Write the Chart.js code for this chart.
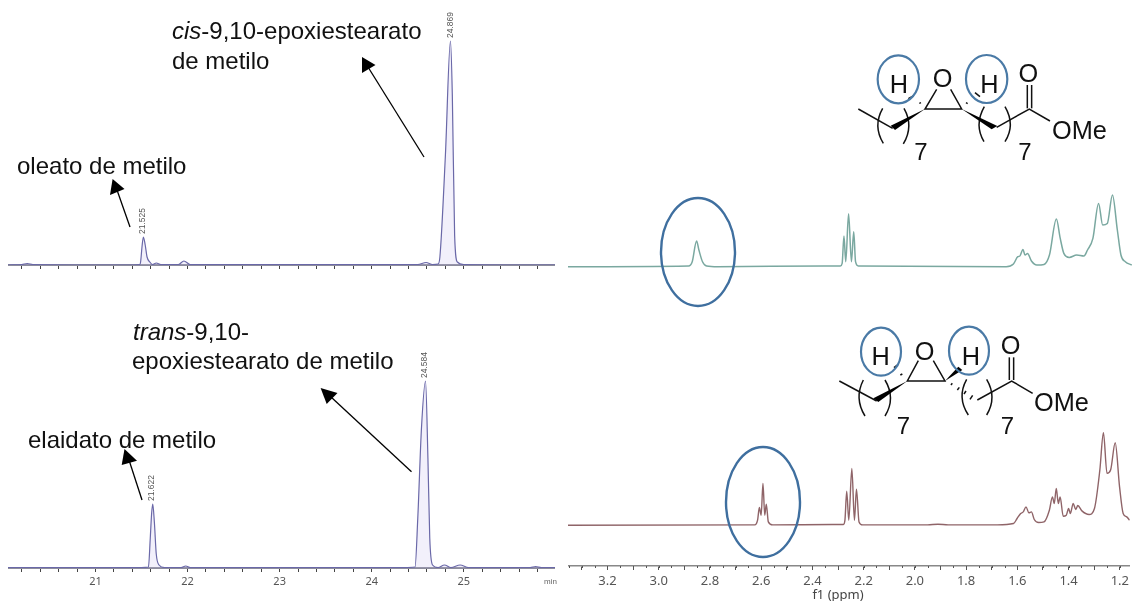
<!DOCTYPE html>
<html>
<head>
<meta charset="utf-8">
<script src="https://cdn.jsdelivr.net/npm/chart.js@4"></script>
<style>
  html, body { margin: 0; padding: 0; background: #fff; }
  body { position: relative; width: 1132px; height: 601px; overflow: hidden; }
  .panel { position: absolute; filter: blur(0.35px); }
  svg { position: absolute; left: 0; top: 0; }
  svg text { font-family: "Liberation Sans", Arial, sans-serif; fill: #111; }
</style>
</head>
<body>
<div class="panel" style="left:8px;top:0;width:547px;height:275px"><canvas id="gc_cis"></canvas></div>
<div class="panel" style="left:8px;top:340px;width:547px;height:261px"><canvas id="gc_trans"></canvas></div>
<div class="panel" style="left:568px;top:180px;width:564px;height:90px"><canvas id="nmr_cis"></canvas></div>
<div class="panel" style="left:568px;top:420px;width:564px;height:181px"><canvas id="nmr_trans"></canvas></div>

<svg width="1132" height="601" xmlns="http://www.w3.org/2000/svg">
  <g font-size="24">
    <text x="172" y="39"><tspan font-style="italic">cis</tspan>-9,10-epoxiestearato</text>
    <text x="172" y="69">de metilo</text>
    <text x="17" y="174">oleato de metilo</text>
    <text x="133" y="340"><tspan font-style="italic">trans</tspan>-9,10-</text>
    <text x="132" y="369">epoxiestearato de metilo</text>
    <text x="28" y="448">elaidato de metilo</text>
  </g>
  <text x="544" y="584" font-size="8" style="fill:#666">min</text>
  <text x="838" y="599" text-anchor="middle" font-size="13" style="fill:#444;font-family:'Noto Sans'">f1 (ppm)</text>
  <g stroke="#000" stroke-width="1.3">
    <line x1="130" y1="227" x2="117" y2="190"/>
    <line x1="424" y1="157" x2="368" y2="67"/>
    <line x1="142" y1="500" x2="129" y2="460"/>
    <line x1="411.5" y1="471.7" x2="331" y2="397"/>
  </g>
  <polygon points="112.6,179 110,195 124.5,189"/>
  <polygon points="362,57 362,73 375.5,65"/>
  <polygon points="124.5,449 121.7,465 137,460.7"/>
  <polygon points="320.6,388 326.7,404 337.5,393"/>

  <g fill="none" stroke="#3f6f9f" stroke-width="2.4">
    <ellipse cx="698" cy="252" rx="37" ry="54"/>
    <ellipse cx="763" cy="502" rx="37" ry="55"/>
  </g>

  <!-- cis structure, drawn in zoom units -->
  <g transform="translate(840,40) scale(0.3333)">
    <g fill="none" stroke="#111" stroke-width="4.5">
      <polyline points="55,207 158,265"/>
      <polyline points="290,148 255,207 365,207 332,148"/>
      <polyline points="470,262 568,207 630,243"/>
      <line x1="562" y1="205" x2="562" y2="135"/>
      <line x1="575" y1="205" x2="575" y2="135"/>
      <path d="M128,205 Q98,258 130,310"/>
      <path d="M192,205 Q222,258 190,312"/>
      <path d="M433,200 Q402,255 432,305"/>
      <path d="M495,200 Q527,255 495,305"/>
      <line x1="205" y1="176" x2="220" y2="168"/>
      <line x1="405" y1="158" x2="420" y2="170"/>
      <line x1="238" y1="190" x2="243" y2="188"/>
      <line x1="378" y1="188" x2="383" y2="191"/>
    </g>
    <polygon points="255,207 152,257 165,270" fill="#000"/>
    <polygon points="365,207 455,268 472,258" fill="#000"/>
    <g font-size="76">
      <text x="308" y="141" text-anchor="middle">O</text>
      <text x="177" y="159" text-anchor="middle">H</text>
      <text x="448" y="159" text-anchor="middle">H</text>
      <text x="565" y="126" text-anchor="middle">O</text>
      <text x="636" y="298">OMe</text>
      <text x="243" y="361" text-anchor="middle" font-size="72">7</text>
      <text x="555" y="361" text-anchor="middle" font-size="72">7</text>
    </g>
    <g fill="none" stroke="#4a7aa6" stroke-width="6.5">
      <ellipse cx="175" cy="118" rx="62" ry="72"/>
      <ellipse cx="440" cy="117" rx="62" ry="72"/>
    </g>
  </g>

  <!-- trans structure, drawn in zoom units -->
  <g transform="translate(820,320) scale(0.3333)">
    <g fill="none" stroke="#111" stroke-width="4.5">
      <polyline points="58,183 170,243"/>
      <polyline points="295,122 262,183 375,183 340,122"/>
      <polyline points="472,240 575,183 638,220"/>
      <line x1="568" y1="180" x2="568" y2="112"/>
      <line x1="581" y1="180" x2="581" y2="112"/>
      <path d="M130,180 Q102,235 135,288"/>
      <path d="M195,180 Q228,235 195,288"/>
      <path d="M440,178 Q410,232 445,285"/>
      <path d="M500,178 Q532,232 500,285"/>
      <line x1="222" y1="143" x2="232" y2="135"/>
      <line x1="241" y1="165" x2="247" y2="162"/>
      <line x1="393" y1="195" x2="397" y2="190"/>
      <line x1="412" y1="210" x2="418" y2="202"/>
      <line x1="432" y1="222" x2="438" y2="213"/>
      <line x1="450" y1="238" x2="458" y2="226"/>
    </g>
    <polygon points="262,183 160,235 175,246" fill="#000"/>
    <polygon points="375,183 415,140 427,150" fill="#000"/>
    <g font-size="76">
      <text x="314" y="119" text-anchor="middle">O</text>
      <text x="182" y="136" text-anchor="middle">H</text>
      <text x="453" y="136" text-anchor="middle">H</text>
      <text x="572" y="101" text-anchor="middle">O</text>
      <text x="642" y="273">OMe</text>
      <text x="250" y="341" text-anchor="middle" font-size="72">7</text>
      <text x="562" y="341" text-anchor="middle" font-size="72">7</text>
    </g>
    <g fill="none" stroke="#4a7aa6" stroke-width="6.5">
      <ellipse cx="183" cy="95" rx="60" ry="72"/>
      <ellipse cx="447" cy="92" rx="60" ry="72"/>
    </g>
  </g>
</svg>

<script>
// retention times (min) and detector signal
const cisTimes = [20.05, 20.2, 20.26, 20.32, 21.4, 21.48, 21.49, 21.505, 21.52, 21.54, 21.56, 21.59, 21.62, 21.66, 21.71, 21.9, 21.96, 22.03, 24.5, 24.59, 24.66, 24.72, 24.74, 24.8, 24.855, 24.875, 24.9, 24.93, 25.0, 25.99];
const cisSignal = [0, 0.5, 1.5, 0.5, 0, 0.5, 3, 18, 28, 20, 8, 3, 0.5, 2, 0.5, 0.5, 4, 0.5, 0.5, 2.5, 0.5, 1, 8, 110, 224, 170, 30, 3, 0.5, 0];
const cisPeaks = [21.525, 24.869];

const transTimes = [20.05, 21.5, 21.575, 21.595, 21.61, 21.622, 21.64, 21.66, 21.69, 21.75, 21.93, 21.98, 22.03, 24.35, 24.47, 24.5, 24.54, 24.584, 24.61, 24.63, 24.66, 24.72, 24.79, 24.86, 24.96, 25.05, 25.72, 25.78, 25.84, 25.99];
const transSignal = [0.5, 0.5, 1, 30, 55, 64, 45, 14, 3, 0.5, 0.5, 2, 0.5, 0.5, 1, 50, 140, 187, 110, 30, 3, 0.5, 3, 0.5, 3, 0.5, 0.5, 1.5, 0.5, 0.5];
const transPeaks = [21.622, 24.584];

// 1H NMR, chemical shift (ppm) and intensity
const cisShift = [3.354, 2.885, 2.871, 2.854, 2.845, 2.831, 2.815, 2.772, 2.359, 2.295, 2.288, 2.281, 2.274, 2.263, 2.252, 2.243, 2.236, 2.225, 1.65, 1.622, 1.605, 1.597, 1.585, 1.577, 1.567, 1.552, 1.531, 1.503, 1.482, 1.455, 1.44, 1.426, 1.405, 1.376, 1.348, 1.334, 1.313, 1.291, 1.275, 1.257, 1.237, 1.218, 1.204, 1.187, 1.162];
const cisIntensity = [0, 0.7, 5, 25.7, 16.7, 5, 0.7, 0, 0.7, 0.7, 3.3, 30.7, 5, 53, 5, 35, 5, 0.7, 0, 2.7, 10, 10.7, 17.3, 11.7, 13.3, 5.7, 1.7, 2.3, 11.7, 47.7, 28.3, 13.3, 9.3, 11.7, 10.7, 16.7, 28.3, 63.3, 41.7, 43.3, 71.7, 36.7, 11.7, 5, 1.7];

const transShift = [3.354, 2.625, 2.614, 2.607, 2.6, 2.593, 2.586, 2.58, 2.572, 2.555, 2.323, 2.279, 2.273, 2.266, 2.258, 2.246, 2.236, 2.228, 2.218, 2.204, 1.95, 1.91, 1.87, 1.678, 1.615, 1.601, 1.587, 1.577, 1.566, 1.555, 1.545, 1.534, 1.517, 1.496, 1.475, 1.463, 1.456, 1.448, 1.44, 1.433, 1.421, 1.409, 1.4, 1.393, 1.382, 1.372, 1.364, 1.348, 1.32, 1.299, 1.278, 1.264, 1.25, 1.236, 1.218, 1.201, 1.187, 1.173, 1.162];
const transIntensity = [0, 0.3, 5, 17.7, 10, 41.7, 10, 21, 3.3, 0.3, 0.7, 0.7, 5, 34, 5, 56.7, 5, 36, 3.3, 0.3, 0.3, 1, 0.3, 0.3, 1.7, 6.7, 11.7, 13.3, 18.3, 12.3, 13.3, 5.7, 2.7, 3.3, 15, 28.3, 21.7, 36.7, 21.7, 28.3, 9, 10, 16.7, 11.7, 21.7, 15.7, 19.7, 14.3, 10.7, 16.7, 55, 92.3, 51.7, 55, 82.3, 38.3, 11.7, 8.3, 5];

const gcRange = [20.05, 25.99];
const nmrRange = [1.161, 3.354];

const toPoints = (xs, ys) => xs.map((x, i) => ({ x, y: ys[i] }));

// rotated retention time labels over the peaks
const peakLabels = {
    id: 'peakLabels',
    afterDatasetsDraw(chart, args, opts) {
        const { ctx, scales } = chart;
        (opts.values || []).forEach(t => {
            const near = chart.data.datasets[0].data.filter(p => Math.abs(p.x - t) < 0.05);
            const top = Math.max(...near.map(p => p.y));
            ctx.save();
            ctx.translate(scales.x.getPixelForValue(t) - 1, scales.y.getPixelForValue(top) - 3);
            ctx.rotate(-Math.PI / 2);
            ctx.font = '8.5px "Liberation Sans"';
            ctx.fillStyle = '#555';
            ctx.textBaseline = 'middle';
            ctx.fillText(t.toFixed(3), 0, 0);
            ctx.restore();
        });
    }
};

// short ticks between the labelled ones on the ppm axis
const minorTicks = {
    id: 'minorTicks',
    afterDraw(chart, args, opts) {
        if (!opts.step) return;
        const { ctx, scales } = chart;
        const x = scales.x;
        ctx.save();
        ctx.strokeStyle = '#555';
        ctx.lineWidth = 1;
        for (let v = 1.15; v < nmrRange[1]; v += opts.step) {
            const px = Math.round(x.getPixelForValue(v)) + 0.5;
            ctx.beginPath();
            ctx.moveTo(px, x.top);
            ctx.lineTo(px, x.top + 2);
            ctx.stroke();
        }
        ctx.restore();
    }
};

const makeChart = (id, xs, ys, o) => new Chart(document.getElementById(id), {
    type: 'line',
    plugins: [peakLabels, minorTicks],
    data: {
        datasets: [{
            data: toPoints(xs, ys),
            borderColor: o.color,
            borderWidth: o.width,
            backgroundColor: o.fill || 'transparent',
            fill: o.fill ? 'origin' : false,
            pointRadius: 0,
            cubicInterpolationMode: 'monotone'
        }]
    },
    options: {
        responsive: true,
        maintainAspectRatio: false,
        animation: false,
        layout: { padding: 0 },
        plugins: {
            legend: { display: false },
            tooltip: { enabled: false },
            peakLabels: { values: o.peaks || [] },
            minorTicks: { step: o.minorStep || 0 }
        },
        scales: {
            x: o.x,
            y: { display: false, min: o.yMin, max: o.yMax }
        }
    }
});

const gcAxis = (labels) => ({
    type: 'linear',
    min: gcRange[0],
    max: gcRange[1],
    afterFit: s => { s.height = labels ? 33 : 10 },
    border: { color: '#8c8c9c', width: 2 },
    grid: { drawOnChartArea: false, tickLength: 4, color: '#444' },
    ticks: {
        stepSize: 0.2,
        includeBounds: false,
        autoSkip: false,
        maxRotation: 0,
        padding: 3,
        color: '#555',
        font: { family: 'Noto Sans', size: 11 },
        callback: v => labels && Math.abs(v - Math.round(v)) < 1e-6 ? String(Math.round(v)) : ''
    }
});

const nmrAxis = {
    type: 'linear',
    reverse: true,
    min: nmrRange[0],
    max: nmrRange[1],
    afterFit: s => { s.height = 35 },
    border: { color: '#888', width: 1.5 },
    grid: { drawOnChartArea: false, tickLength: 4, color: '#555' },
    ticks: {
        stepSize: 0.1,
        includeBounds: false,
        autoSkip: false,
        maxRotation: 0,
        padding: 3,
        color: '#555',
        font: { family: 'Noto Sans', size: 13 },
        callback: v => Math.abs(v * 5 - Math.round(v * 5)) < 1e-6 ? v.toFixed(1) : ''
    }
};

makeChart('gc_cis', cisTimes, cisSignal, {
    color: '#6a68a8', width: 1.2, fill: 'rgba(190,180,235,0.2)',
    peaks: cisPeaks, x: gcAxis(false), yMin: 0, yMax: 265
});
makeChart('gc_trans', transTimes, transSignal, {
    color: '#6a68a8', width: 1.2, fill: 'rgba(190,180,235,0.2)',
    peaks: transPeaks, x: gcAxis(true), yMin: 0, yMax: 228
});
makeChart('nmr_cis', cisShift, cisIntensity, {
    color: '#7aa8a0', width: 1.5,
    x: { type: 'linear', reverse: true, min: nmrRange[0], max: nmrRange[1], display: false },
    yMin: -3.3, yMax: 86.7
});
makeChart('nmr_trans', transShift, transIntensity, {
    color: '#8f6468', width: 1.4, minorStep: 0.05,
    x: nmrAxis, yMin: -40.7, yMax: 105
});
</script>
</body>
</html>
